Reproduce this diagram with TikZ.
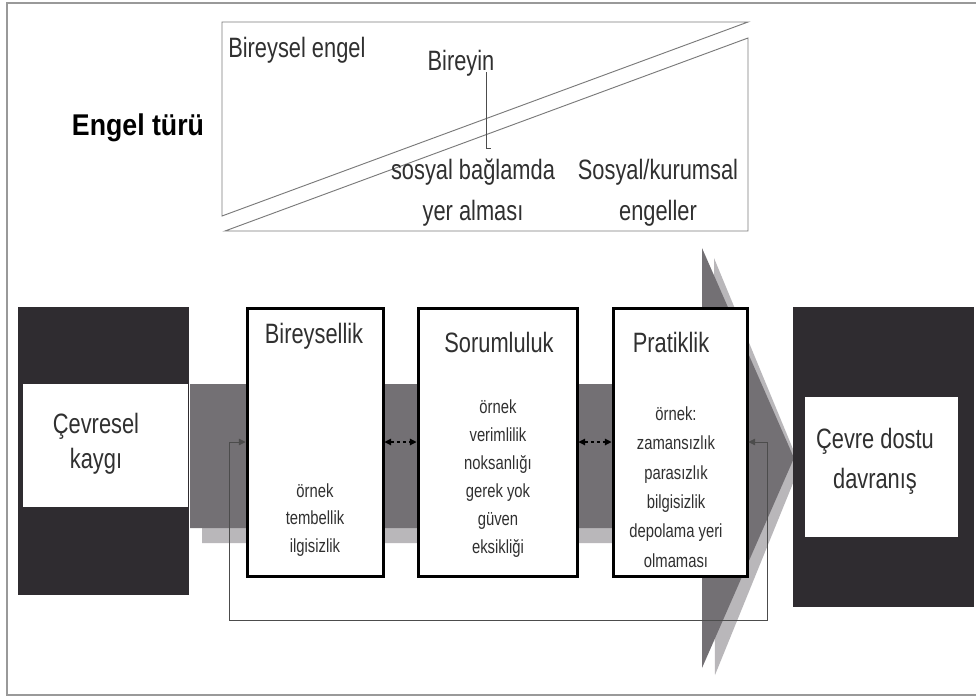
\documentclass[tikz,border=0pt]{standalone}
\usepackage{fontspec}
\setmainfont{Liberation Sans}
\newfontfamily\condfont[FakeStretch=0.78]{Liberation Sans}
\newfontfamily\boldcond[FakeStretch=0.89]{Liberation Sans Bold}
\usetikzlibrary{arrows.meta}
\definecolor{darkblk}{HTML}{2F2C30}
\definecolor{arrowgray}{HTML}{737074}
\definecolor{shadowgray}{HTML}{B9B7BA}
\definecolor{linegray}{HTML}{7A7A7A}
\definecolor{txt}{HTML}{303030}
\tikzset{
  boxnode/.style={draw=black, line width=2.25pt, fill=white, inner sep=0pt},
  darkblock/.style={fill=darkblk, draw=none, inner sep=0pt},
  whitepanel/.style={fill=white, draw=none, inner sep=0pt},
  titletext/.style={font=\condfont\fontsize{21}{25}\selectfont, text=txt, inner sep=0pt},
  bigtext/.style={font=\condfont\fontsize{21}{30.75}\selectfont, text=txt, align=center, inner sep=0pt},
  bodytext/.style={font=\condfont\fontsize{14.25}{21}\selectfont, text=txt, align=center, inner sep=0pt},
  dblarrow/.style={{Triangle[length=5pt,width=5pt]}-{Triangle[length=5pt,width=5pt]}, dash pattern=on 2.5pt off 2pt, line width=0.8pt},
  fbline/.style={draw=black!70, line width=0.6pt, {Triangle[length=5pt,width=5pt]}-{Triangle[length=5pt,width=5pt]}},
  thinline/.style={draw=linegray, line width=0.7pt},
}
\begin{document}
\begin{tikzpicture}[x=0.75pt,y=-0.75pt]
\useasboundingbox (0,0) rectangle (976,697);
\fill[white] (0,0) rectangle (976,697);
% outer frame
\draw[draw=black!40, line width=0.8pt] (7,3) rectangle (990,695);

% big arrow (shadow, then arrow)
\fill[shadowgray] (202,399) -- (714,399) -- (714,258) -- (800,466) -- (715,675) -- (714,543) -- (202,543) -- cycle;
\fill[arrowgray] (190,384) -- (702,384) -- (702,248) -- (794,458) -- (702,668) -- (702,528) -- (190,528) -- cycle;

% top box
\draw[thinline] (222,216) -- (222,22) -- (748,22) -- cycle;
\draw[thinline] (225,231) -- (748,38) -- (748,231) -- cycle;

\node[font=\boldcond\fontsize{22.5}{26}\selectfont, inner sep=0pt] (engel) at (138,128) {Engel türü};
\node[titletext, anchor=west] (bireysel) at (228,50) {Bireysel engel};
\node[titletext] (bireyin) at (461,63) {Bireyin};
\node[bigtext] (sosyal) at (473,193) {sosyal bağlamda\\yer alması};
\node[bigtext] (kurum) at (658,193) {Sosyal/kurumsal\\engeller};
\coordinate (ldtop) at (486,72);
\coordinate (ldbot) at (486,148);
\coordinate (ldend) at (491,148);
\draw[draw=black!70, line width=0.6pt] (ldtop) -- (ldbot) -- (ldend);

% left block
\node[darkblock, minimum width=128.25pt, minimum height=216pt] (cl) at (103.5,451) {};
\node[whitepanel, minimum width=123.75pt, minimum height=92.25pt] (cli) at (105.5,445.5) {};
\node[font=\condfont\fontsize{21}{26.25}\selectfont, text=txt, align=center, inner sep=0pt] (cltext) at (96,444) {Çevresel\\kaygı};

% right block
\node[darkblock, minimum width=135.75pt, minimum height=225pt] (cr) at (883.5,457) {};
\node[whitepanel, minimum width=114.75pt, minimum height=105pt] (cri) at (881.5,467) {};
\node[font=\condfont\fontsize{21}{30}\selectfont, text=txt, align=center, inner sep=0pt] (crtext) at (875,461) {Çevre dostu\\davranış};

% boxes
\node[boxnode, minimum width=102pt, minimum height=201pt] (b1) at (315,442) {};
\node[boxnode, minimum width=119.25pt, minimum height=201pt] (b2) at (497.5,442) {};
\node[boxnode, minimum width=100.5pt, minimum height=201pt] (b3) at (680,442) {};

\node[titletext] (t1) at (314,336) {Bireysellik};
\node[titletext] (t2) at (499,342) {Sorumluluk};
\node[titletext] (t3) at (671,342) {Pratiklik};

\node[bodytext, font=\condfont\fontsize{14.25}{20.5}\selectfont] (d1) at (315,520) {örnek\\tembellik\\ilgisizlik};
\node[bodytext] (d2) at (498,479) {örnek\\verimlilik\\noksanlığı\\gerek yok\\güven\\eksikliği};
\node[bodytext, font=\condfont\fontsize{14.25}{22}\selectfont] (d3) at (676,487) {örnek:\\zamansızlık\\parasızlık\\bilgisizlik\\depolama yeri\\olmaması};

% connectors
\draw[dblarrow] (b1.east) -- (b2.west);
\draw[dblarrow] (b2.east) -- (b3.west);
\coordinate (lb) at (229,620);
\draw[fbline] (b3.east) -- ++(19,0) |- (lb) |- (b1.west);
\end{tikzpicture}
\end{document}
